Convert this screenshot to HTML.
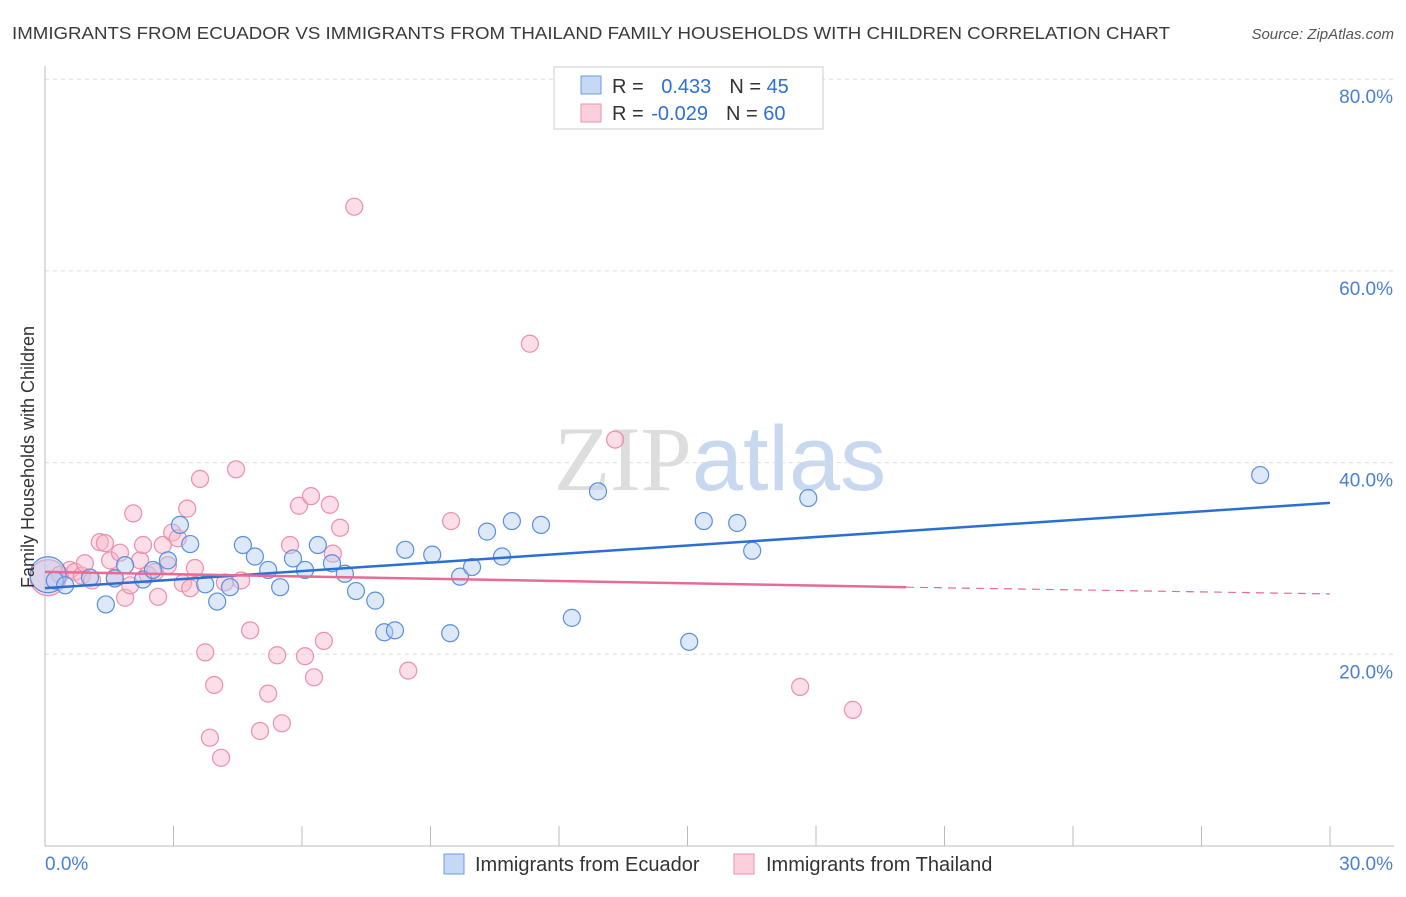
<!DOCTYPE html>
<html><head><meta charset="utf-8"><style>
body{margin:0;background:#fff;font-family:"Liberation Sans",sans-serif}
svg text{font-family:"Liberation Sans",sans-serif}
</style></head><body>
<svg id="chart" width="1406" height="892" xmlns="http://www.w3.org/2000/svg">
<text x="12" y="39" font-size="17.5" fill="#3a3a3a" textLength="1158" lengthAdjust="spacingAndGlyphs">IMMIGRANTS FROM ECUADOR VS IMMIGRANTS FROM THAILAND FAMILY HOUSEHOLDS WITH CHILDREN CORRELATION CHART</text>
<text x="1394" y="39" font-size="15" fill="#555" text-anchor="end" font-style="italic">Source: ZipAtlas.com</text>
<text x="720" y="490" font-size="92" text-anchor="middle"><tspan fill="#ddd" font-family="Liberation Serif">ZIP</tspan><tspan fill="#c8d8ef">atlas</tspan></text>
<g id="grid"></g><g id="axes"></g><g id="pts"></g><g id="lines"></g>
<text transform="translate(34,457) rotate(-90)" font-size="18" fill="#333" text-anchor="middle">Family Households with Children</text>
<g>
<rect x="554" y="67" width="269" height="62" fill="#fff" stroke="#ccc"/>
<rect x="581" y="76" width="20" height="18" fill="#c5d8f5" stroke="#6d9ae0"/>
<rect x="581" y="104" width="20" height="18" fill="#fbd0dc" stroke="#ec8fab"/>
<text x="612" y="93" font-size="20" fill="#333">R = <tspan fill="#2d6fd6" dx="12">0.433</tspan><tspan dx="18">N = </tspan><tspan fill="#2d6fd6">45</tspan></text>
<text x="612" y="120" font-size="20" fill="#333">R = <tspan fill="#2d6fd6" dx="2">-0.029</tspan><tspan dx="18">N = </tspan><tspan fill="#2d6fd6">60</tspan></text>
</g>
<g>
<rect x="444" y="854" width="20" height="20" fill="#c5d8f5" stroke="#6d9ae0"/>
<text x="475" y="871" font-size="20" fill="#333">Immigrants from Ecuador</text>
<rect x="734" y="854" width="20" height="20" fill="#fbd0dc" stroke="#ec8fab"/>
<text x="766" y="871" font-size="20" fill="#333">Immigrants from Thailand</text>
</g>
</svg>
<script>
const yTicks=[20,40,60,80];
const yTickLabels=["20.0%","40.0%","60.0%","80.0%"];
const xTicks=[0,3,6,9,12,15,18,21,24,27,30];
const blueX=[0.07,0.23,0.47,1.05,1.42,1.63,1.87,2.29,2.52,2.87,3.15,3.39,3.74,4.02,4.32,4.62,4.9,5.21,5.49,5.79,6.07,6.37,6.7,7.0,7.26,7.71,7.92,8.17,8.41,9.04,9.46,9.69,9.97,10.32,10.67,10.9,11.58,12.3,12.91,15.04,15.38,16.16,16.51,17.82,28.37];
const blueY=[28.3,27.7,27.2,28.0,25.2,27.9,29.3,27.8,28.8,29.8,33.5,31.5,27.3,25.5,27.0,31.4,30.2,28.8,27.0,30.0,28.8,31.4,29.5,28.4,26.6,25.6,22.3,22.5,30.9,30.4,22.2,28.1,29.1,32.8,30.2,33.9,33.5,23.8,37.0,21.3,33.9,33.7,30.8,36.3,38.7];
const pinkX=[0.07,0.35,0.58,0.7,0.86,0.93,1.1,1.28,1.4,1.52,1.63,1.75,1.87,1.99,2.06,2.22,2.29,2.4,2.57,2.64,2.75,2.87,2.97,3.1,3.22,3.32,3.39,3.5,3.62,3.74,3.85,3.95,4.11,4.2,4.46,4.58,4.79,5.02,5.21,5.42,5.53,5.72,5.93,6.07,6.21,6.28,6.51,6.65,6.72,6.89,7.22,8.48,9.48,11.32,13.31,17.63,18.86];
const pinkY=[28.0,28.3,28.8,28.6,28.2,29.5,27.7,31.7,31.6,29.8,28.0,30.6,25.9,27.2,34.7,29.8,31.4,28.3,28.6,26.0,31.4,29.3,32.7,32.1,27.4,35.2,26.9,29.0,38.3,20.2,11.3,16.8,9.2,27.5,39.3,27.7,22.5,12.0,15.9,19.9,12.8,31.4,35.5,19.8,36.5,17.6,21.4,35.6,30.5,33.2,66.7,18.3,33.9,52.4,42.4,16.6,14.2];
const blueLine=[[0,26.9],[30,35.8]];
const pinkLine=[[0,28.6],[20.1,27.0],[30,26.3]];
const X=v=>45+v/30*1285, Y=v=>846-v/20*191.7;
const ns="http://www.w3.org/2000/svg";
function mk(p,t,a){const e=document.createElementNS(ns,t);for(const k in a)e.setAttribute(k,a[k]);p.appendChild(e);return e;}
const grid=document.getElementById('grid'),axes=document.getElementById('axes'),pts=document.getElementById('pts'),lines=document.getElementById('lines');
yTicks.forEach((v,i)=>{
 const l=mk(grid,'line',{x1:45,x2:1394,y1:Y(v),y2:Y(v),stroke:'#ddd','stroke-dasharray':'4,4'});
 
 
 const t=mk(axes,'text',{x:1393,y:Y(v)+24,'font-size':19,fill:'#4a7fd4','text-anchor':'end'});
 t.textContent=yTickLabels[i];
 
 
});
const ya=mk(axes,'line',{x1:45,x2:45,y1:66,y2:846,stroke:'#bbb'});


const xa=mk(axes,'line',{x1:45,x2:1394,y1:846,y2:846,stroke:'#bbb'});


xTicks.forEach(v=>{const t=mk(axes,'line',{x1:X(v),x2:X(v),y1:826,y2:846,stroke:'#bbb'});
 
 });
[['0.0%',45,'start'],['30.0%',1393,'end']].forEach(a=>{const t=mk(axes,'text',{x:a[1],y:870,'font-size':19,fill:'#4a7fd4','text-anchor':a[2]});t.textContent=a[0];
 
 });
function dots(xs,ys,fill,stroke,name){xs.forEach((x,i)=>{const c=mk(pts,'circle',{cx:X(x),cy:Y(ys[i]),r:i===0?18:8.5,fill:fill,'fill-opacity':0.45,stroke:stroke,'stroke-width':1.2});
 
 });}
dots(pinkX,pinkY,'#f7b6c9','#ec8fab','thailand-point');
dots(blueX,blueY,'#b3cdf2','#5a8fdc','ecuador-point');
const bl=mk(lines,'line',{x1:X(blueLine[0][0]),y1:Y(blueLine[0][1]),x2:X(blueLine[1][0]),y2:Y(blueLine[1][1]),stroke:'#2c6fd4','stroke-width':2.5});


const pl=mk(lines,'line',{x1:X(pinkLine[0][0]),y1:Y(pinkLine[0][1]),x2:X(pinkLine[1][0]),y2:Y(pinkLine[1][1]),stroke:'#e86b93','stroke-width':2.5});


const pd=mk(lines,'line',{x1:X(pinkLine[1][0]),y1:Y(pinkLine[1][1]),x2:X(pinkLine[2][0]),y2:Y(pinkLine[2][1]),stroke:'#e86b93','stroke-width':1.2,'stroke-dasharray':'8,6'});


</script>
</body></html>
